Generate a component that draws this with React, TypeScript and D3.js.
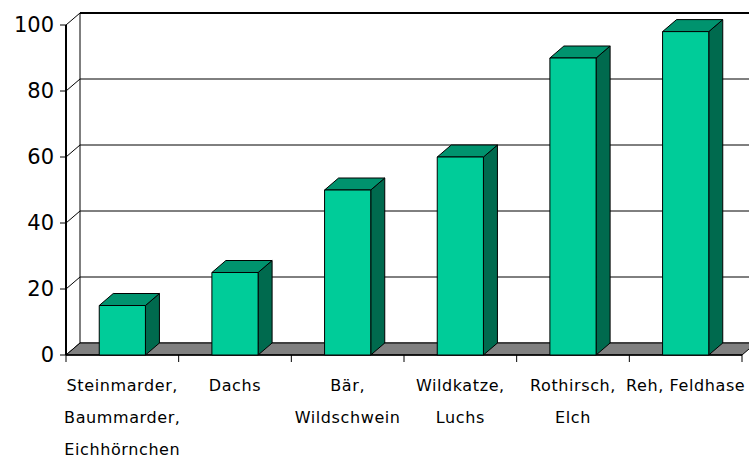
import React from "react";
import * as d3 from "d3";

const categories: string[][] = [
  ["Steinmarder,", "Baummarder,", "Eichhörnchen"],
  ["Dachs"],
  ["Bär,", "Wildschwein"],
  ["Wildkatze,", "Luchs"],
  ["Rothirsch,", "Elch"],
  ["Reh, Feldhase"],
];
const values: number[] = [15, 25, 50, 60, 90, 98];
const yTicks: number[] = [0, 20, 40, 60, 80, 100];

const W = 749;
const H = 458;
const x0 = 66;
const x1 = 742;
const yBase = 355;
const yTop = 25;
const DX = 14;
const DY = -12;
const FONT = "'DejaVu Sans', 'Noto Sans', sans-serif";

export default function App() {
  const x = d3
    .scaleBand<number>()
    .domain(categories.map((_, i) => i))
    .range([x0, x1])
    .paddingInner(0.59)
    .paddingOuter(0.295);
  const xb = d3
    .scaleBand<number>()
    .domain(categories.map((_, i) => i))
    .range([x0, x1]);
  const y = d3.scaleLinear().domain([0, 100]).range([yBase, yTop]);

  const front = "#00CC99";
  const top = "#00936E";
  const side = "#006A4E";

  return (
    <svg
      width={W}
      height={H}
      style={{ position: "absolute", left: 0, top: 0, background: "#fff" }}
    >
      {yTicks.map((t) => (
        <line
          key={"g" + t}
          x1={x0 + DX}
          x2={W + 20}
          y1={y(t) + DY}
          y2={y(t) + DY}
          stroke="#000"
          strokeWidth={t === 100 ? 2 : 1}
        />
      ))}
      {yTicks.map((t) => (
        <line
          key={"d" + t}
          x1={x0}
          y1={y(t)}
          x2={x0 + DX}
          y2={y(t) + DY}
          stroke="#000"
          strokeWidth={1}
        />
      ))}
      <line
        x1={x0 + DX}
        x2={x0 + DX}
        y1={y(100) + DY}
        y2={y(0) + DY}
        stroke="#000"
        strokeWidth={1}
      />
      <polygon
        points={`${x0},${yBase} ${x1},${yBase} ${x1 + DX},${yBase + DY} ${x0 + DX},${yBase + DY}`}
        fill="#808080"
        stroke="#000"
        strokeWidth={1}
      />
      <line x1={x0} x2={x0} y1={yTop} y2={yBase} stroke="#000" strokeWidth={2} />
      {yTicks.map((t) => (
        <g key={"t" + t}>
          <line x1={x0 - 6} x2={x0} y1={y(t)} y2={y(t)} stroke="#000" strokeWidth={1} />
          <text
            x={x0 - 12}
            y={y(t)}
            textAnchor="end"
            dominantBaseline="central"
            fontFamily={FONT}
            fontSize={21}
            fill="#000"
          >
            {t}
          </text>
        </g>
      ))}
      <line x1={x0} x2={x1} y1={yBase} y2={yBase} stroke="#000" strokeWidth={1.5} />
      {d3.range(categories.length + 1).map((i) => {
        const xx = i < categories.length ? xb(i)! : x1;
        return (
          <line key={"xt" + i} x1={xx} x2={xx} y1={yBase} y2={yBase + 7} stroke="#000" strokeWidth={1} />
        );
      })}
      {values.map((v, i) => {
        const bx = x(i)!;
        const bw = x.bandwidth();
        const by = y(v);
        return (
          <g key={"b" + i} stroke="#000" strokeWidth={1} strokeLinejoin="round">
            <polygon
              points={`${bx + bw},${yBase} ${bx + bw + DX},${yBase + DY} ${bx + bw + DX},${by + DY} ${bx + bw},${by}`}
              fill={side}
            />
            <polygon
              points={`${bx},${by} ${bx + bw},${by} ${bx + bw + DX},${by + DY} ${bx + DX},${by + DY}`}
              fill={top}
            />
            <rect x={bx} y={by} width={bw} height={yBase - by} fill={front} />
          </g>
        );
      })}
      {categories.map((lines, i) => (
        <text
          key={"c" + i}
          x={xb(i)! + xb.bandwidth() / 2}
          textAnchor="middle"
          fontFamily={FONT}
          fontSize={16}
          letterSpacing={0.6}
          fill="#000"
        >
          {lines.map((l, j) => (
            <tspan key={j} x={xb(i)! + xb.bandwidth() / 2} y={391 + j * 32}>
              {l}
            </tspan>
          ))}
        </text>
      ))}
    </svg>
  );
}
